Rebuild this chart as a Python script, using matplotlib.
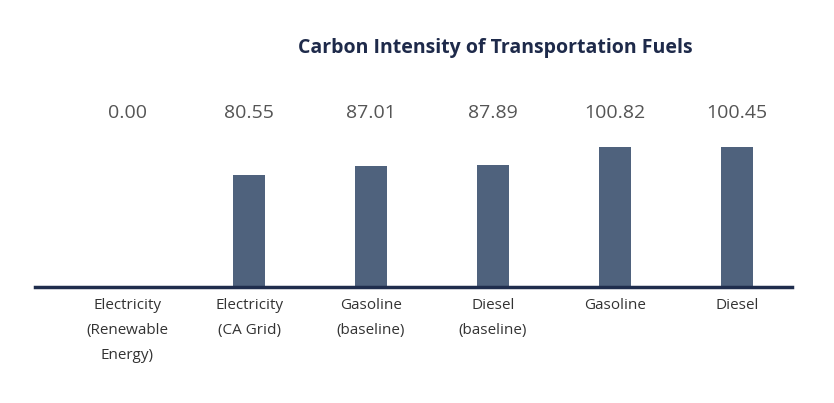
import matplotlib
matplotlib.use("Agg")
import matplotlib.pyplot as plt

categories = ["Electricity\n(Renewable\nEnergy)", "Electricity\n(CA Grid)", "Gasoline\n(baseline)",
              "Diesel\n(baseline)", "Gasoline", "Diesel"]
values = [0.00, 80.55, 87.01, 87.89, 100.82, 100.45]
labels = ["0.00", "80.55", "87.01", "87.89", "100.82", "100.45"]

fig = plt.figure(figsize=(8.34, 4.03), dpi=100)
ax = fig.add_axes([35/834, 116/403, 757/834, 150/403])
x = list(range(len(values)))
ax.bar(x, values, width=0.26, color="#4f627d")
ax.set_xlim(-0.754, 5.45)
ax.set_ylim(0, 108)
for s in ["top", "right", "left"]:
    ax.spines[s].set_visible(False)
ax.spines["bottom"].set_color("#1f2d4d")
ax.spines["bottom"].set_linewidth(2.5)
ax.set_yticks([])
ax.set_xticks(x)
ax.set_xticklabels(categories, fontsize=11, color="#333333", linespacing=1.9, va="top", fontfamily="Open Sans")
ax.tick_params(axis="x", length=0, pad=8)
for xi, lab in zip(x, labels):
    ax.text(xi, 0.72, lab, transform=ax.get_xaxis_transform() if False else matplotlib.transforms.blended_transform_factory(ax.transData, fig.transFigure),
            ha="center", va="center", fontsize=14, color="#555555", fontfamily="Open Sans")
fig.text(0.594, 0.88, "Carbon Intensity of Transportation Fuels", ha="center", va="center",
         fontsize=14, fontweight="bold", color="#1e2a4a", fontfamily="Open Sans")
fig.savefig("out.png", dpi=100)
